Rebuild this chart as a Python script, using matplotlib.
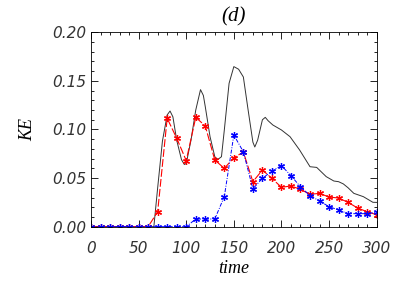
import matplotlib
matplotlib.use("Agg")
import matplotlib.pyplot as plt
from matplotlib.ticker import MultipleLocator, FormatStrFormatter

# sampled series (every 10 time units)
t_pts = [0, 10, 20, 30, 40, 50, 60, 70, 80, 90, 100, 110, 120, 130, 140, 150,
         160, 170, 180, 190, 200, 210, 220, 230, 240, 250, 260, 270, 280, 290, 300]
ke_red = [0, 0, 0, 0, 0, 0, 0, 0.0154, 0.1115, 0.091, 0.068, 0.1125, 0.1036, 0.0686,
          0.060, 0.071, 0.0768, 0.0463, 0.0583, 0.0497, 0.0405, 0.0419, 0.0384,
          0.0333, 0.0343, 0.0305, 0.0295, 0.025, 0.0192, 0.0154, 0.0123]
ke_blue = [0, 0, 0, 0, 0, 0, 0, 0, 0, 0, 0, 0.0079, 0.0079, 0.0079, 0.031, 0.0943,
           0.077, 0.039, 0.0497, 0.0573, 0.0628, 0.0525, 0.041, 0.032, 0.0264,
           0.0206, 0.0172, 0.0134, 0.0134, 0.0134, 0.0148]

# total KE (continuous curve)
t_tot = [0, 60, 66, 70, 75, 80, 83, 86, 90, 95, 98, 100, 105, 110, 115, 118, 120,
         125, 130, 133, 137, 140, 145, 150, 155, 160, 165, 170, 172, 175, 180, 183,
         186, 191, 200, 209, 219, 230, 237, 247, 255, 260, 265, 270, 276, 286, 296, 300]
ke_tot = [0, 0, 0, 0.040, 0.088, 0.115, 0.119, 0.113, 0.089, 0.069, 0.064, 0.065,
          0.089, 0.120, 0.141, 0.135, 0.1235, 0.0926, 0.072, 0.069, 0.072, 0.0995,
          0.1475, 0.1647, 0.162, 0.154, 0.120, 0.087, 0.082, 0.089, 0.110, 0.1125,
          0.109, 0.1046, 0.0995, 0.0926, 0.079, 0.0617, 0.061, 0.0515, 0.047, 0.0463,
          0.044, 0.040, 0.0343, 0.0309, 0.0251, 0.025]

serif = dict(family="Liberation Serif", style="italic")

fig = plt.figure(figsize=(4.07, 2.91), dpi=100)
ax = fig.add_axes([0.2236, 0.221, 0.7019, 0.668])

ax.plot(t_tot, ke_tot, color="#333333", lw=0.7)
ax.plot(t_pts, ke_red, color="red", lw=0.8, ls=(0, (7, 2)),
        marker=(6, 2, 0), ms=5, mew=0.9)
ax.plot(t_pts, ke_blue, color="blue", lw=0.7, ls=(0, (4, 1.5, 1, 1.5)),
        marker=(6, 2, 0), ms=5, mew=0.9)

ax.set_xlim(0, 300)
ax.set_ylim(0, 0.2)
ax.xaxis.set_major_locator(MultipleLocator(50))
ax.xaxis.set_minor_locator(MultipleLocator(10))
ax.yaxis.set_major_locator(MultipleLocator(0.05))
ax.yaxis.set_minor_locator(MultipleLocator(0.01))
ax.yaxis.set_major_formatter(FormatStrFormatter("%.2f"))
ax.tick_params(which="both", direction="in", top=True, right=True, width=0.6)
ax.tick_params(which="major", length=5)
ax.tick_params(which="minor", length=2.5)
for lab in ax.get_xticklabels() + ax.get_yticklabels():
    lab.set_fontfamily("DejaVu Sans")
    lab.set_fontstyle("oblique")
    lab.set_fontsize(11)
    lab.set_color("#333333")
ax.tick_params(axis="x", pad=10)
ax.tick_params(axis="y", pad=3)
for s in ax.spines.values():
    s.set_linewidth(0.6)

ax.set_xlabel("time", fontsize=13, labelpad=3, **serif)
ax.set_ylabel("KE", fontsize=13, labelpad=12, **serif)
ax.set_title("(d)", fontsize=15, pad=8, **serif)

fig.savefig("out.png", dpi=100)
